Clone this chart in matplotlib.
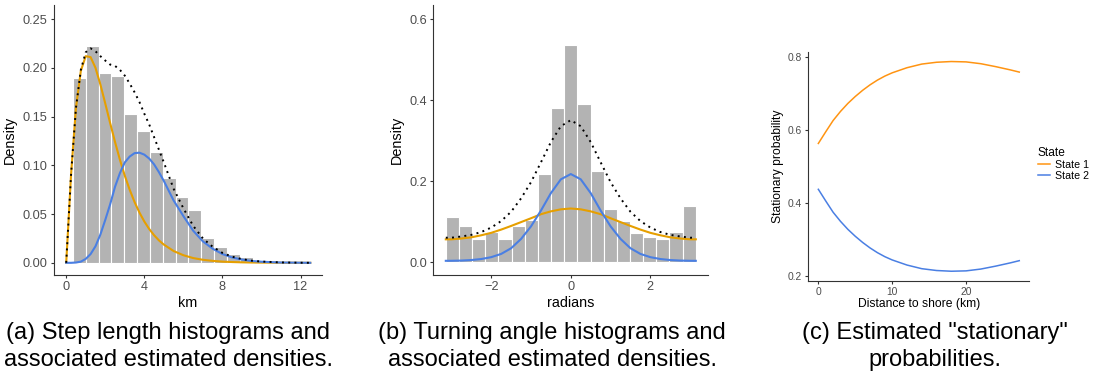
import matplotlib
matplotlib.use("Agg")
import matplotlib.pyplot as plt
import numpy as np

plt.rcParams['font.family'] = ['Liberation Sans', 'DejaVu Sans']

W, H = 1095, 385

# ---- (a) step length ----
step_bin_start = 0.34
step_bin_width = 0.658
step_hist = [0.1894, 0.2223, 0.1949, 0.1914, 0.1527, 0.1353, 0.1134,
             0.0866, 0.0675, 0.0545, 0.0253, 0.0158, 0.0089, 0.0058]
step_x = [0, 0.1, 0.25, 0.5, 0.75, 1.0, 1.25, 1.5, 1.75, 2.0, 2.25, 2.5, 2.75,
          3.0, 3.25, 3.5, 3.75, 4.0, 4.25, 4.5, 4.75, 5.0, 5.5, 6.0, 6.5, 7.0,
          7.5, 8.0, 8.5, 9.0, 9.5, 10.0, 11.0, 12.0, 12.5]
step_state1 = [0, 0.036, 0.091, 0.159, 0.197, 0.212, 0.211, 0.200, 0.183, 0.1635,
               0.1434, 0.124, 0.1058, 0.0894, 0.075, 0.0624, 0.0516, 0.0424,
               0.0347, 0.0283, 0.023, 0.0187, 0.0121, 0.0078, 0.0049, 0.0031,
               0.002, 0.0012, 0.0008, 0.0005, 0.0003, 0.0002, 0.0001, 0.0, 0.0]
step_state2 = [0, 0, 0, 0.0003, 0.0012, 0.004, 0.009, 0.017, 0.029, 0.044,
               0.060, 0.078, 0.092, 0.103, 0.109, 0.1125, 0.113, 0.111, 0.107,
               0.101, 0.093, 0.084, 0.064, 0.048, 0.033, 0.022, 0.0145, 0.009,
               0.0055, 0.0033, 0.0019, 0.0011, 0.0003, 0.0001, 0.0]
step_total = [0, 0.036, 0.091, 0.159, 0.198, 0.216, 0.220, 0.217, 0.212, 0.2075,
              0.2034, 0.202, 0.198, 0.192, 0.184, 0.175, 0.165, 0.153, 0.142,
              0.129, 0.116, 0.103, 0.076, 0.056, 0.038, 0.025, 0.0165, 0.0102,
              0.0063, 0.0038, 0.0022, 0.0013, 0.0004, 0.0001, 0.0]

# ---- (b) turning angle ----
angle_nbins = 19
angle_hist = [0.111, 0.090, 0.058, 0.076, 0.058, 0.091, 0.104, 0.219, 0.381,
              0.537, 0.392, 0.226, 0.133, 0.102, 0.073, 0.063, 0.059, 0.076, 0.139]
angle_x = [-np.pi, -3.0, -2.75, -2.5, -2.25, -2.0, -1.75, -1.5, -1.25, -1.0,
           -0.75, -0.5, -0.25, 0.0, 0.25, 0.5, 0.75, 1.0, 1.25, 1.5, 1.75, 2.0,
           2.25, 2.5, 2.75, 3.0, np.pi]
angle_state1 = [0.057, 0.057, 0.059, 0.062, 0.067, 0.073, 0.081, 0.090, 0.0995,
                0.109, 0.119, 0.126, 0.131, 0.133, 0.131, 0.126, 0.119, 0.109,
                0.0995, 0.090, 0.081, 0.073, 0.067, 0.062, 0.059, 0.057, 0.057]
angle_state2 = [0.004, 0.0041, 0.0046, 0.0059, 0.0084, 0.013, 0.021, 0.035,
                0.058, 0.089, 0.128, 0.171, 0.205, 0.218, 0.205, 0.171, 0.128,
                0.089, 0.058, 0.035, 0.021, 0.013, 0.0084, 0.0059, 0.0046,
                0.0041, 0.004]
angle_total = [0.061, 0.061, 0.064, 0.068, 0.075, 0.086, 0.102, 0.125, 0.158,
               0.198, 0.247, 0.297, 0.336, 0.351, 0.336, 0.297, 0.247, 0.198,
               0.158, 0.125, 0.102, 0.086, 0.075, 0.068, 0.064, 0.061, 0.061]

# ---- (c) stationary probabilities ----
shore_x = [0, 1, 2, 3, 4, 5, 6, 7, 8, 9, 10, 12, 14, 16, 18, 20, 22, 24, 26, 27.2]
stat_state1 = [0.563, 0.595, 0.626, 0.651, 0.673, 0.692, 0.709, 0.724, 0.737,
               0.748, 0.757, 0.771, 0.781, 0.786, 0.788, 0.787, 0.782, 0.774,
               0.765, 0.759]
stat_state2 = [0.437, 0.405, 0.374, 0.349, 0.327, 0.308, 0.291, 0.276, 0.263,
               0.252, 0.243, 0.229, 0.219, 0.214, 0.212, 0.213, 0.218, 0.226,
               0.235, 0.241]

orange_ab = '#E69F00'
orange_c = '#FF9412'
blue = '#4A7FE3'
bar_grey = '#B3B3B3'


def style(ax, tick_size):
    for s in ['top', 'right']:
        ax.spines[s].set_visible(False)
    for s in ['left', 'bottom']:
        ax.spines[s].set_color('#333333')
        ax.spines[s].set_linewidth(0.8)
    ax.tick_params(length=2.5, width=0.8, color='#333333', labelcolor='#4D4D4D',
                   labelsize=tick_size, pad=2)


fig = plt.figure(figsize=(W / 100, H / 100), dpi=100)

# (a)
ax1 = fig.add_axes([54 / W, 1 - 275 / H, (322 - 54) / W, 270 / H])
left_edges = [step_bin_start + i * step_bin_width for i in range(len(step_hist))]
ax1.bar(left_edges, step_hist, width=step_bin_width, align='edge', color=bar_grey,
        edgecolor='white', linewidth=0.8)
ax1.plot(step_x, step_state1, color=orange_ab, lw=1.5)
ax1.plot(step_x, step_state2, color=blue, lw=1.5)
ax1.plot(step_x, step_total, color='black', lw=1.4, linestyle=(0, (1, 2.2)))
ax1.set_xlim(-0.625, 13.1)
ax1.set_ylim(-0.0125, 0.2645)
ax1.set_xticks([0, 4, 8, 12])
ax1.set_yticks([0, 0.05, 0.10, 0.15, 0.20, 0.25])
ax1.set_yticklabels(['0.00', '0.05', '0.10', '0.15', '0.20', '0.25'])
style(ax1, 9.2)
ax1.set_xlabel('km', fontsize=10.4, labelpad=2)
ax1.set_ylabel('Density', fontsize=10.4, labelpad=4)

# (b)
ax2 = fig.add_axes([433.3 / W, 1 - 275 / H, (708.3 - 433.3) / W, 270 / H])
bw = 2 * np.pi / angle_nbins
a_edges = [-np.pi + i * bw for i in range(angle_nbins)]
ax2.bar(a_edges, angle_hist, width=bw, align='edge', color=bar_grey,
        edgecolor='white', linewidth=0.8)
ax2.plot(angle_x, angle_state1, color=orange_ab, lw=1.5)
ax2.plot(angle_x, angle_state2, color=blue, lw=1.5)
ax2.plot(angle_x, angle_total, color='black', lw=1.4, linestyle=(0, (1, 2.2)))
ax2.set_xlim(-1.1 * np.pi, 1.1 * np.pi)
ax2.set_ylim(-0.031, 0.635)
ax2.set_xticks([-2, 0, 2])
ax2.set_yticks([0, 0.2, 0.4, 0.6])
ax2.set_yticklabels(['0.0', '0.2', '0.4', '0.6'])
style(ax2, 9.2)
ax2.set_xlabel('radians', fontsize=10.4, labelpad=2)
ax2.set_ylabel('Density', fontsize=10.4, labelpad=4)

# (c)
ax3 = fig.add_axes([808.3 / W, 1 - 280.7 / H, (1029.3 - 808.3) / W, 229 / H])
ax3.plot(shore_x, stat_state1, color=orange_c, lw=1.1, label='State 1')
ax3.plot(shore_x, stat_state2, color=blue, lw=1.1, label='State 2')
ax3.set_xlim(-1.36, 28.56)
ax3.set_ylim(0.186, 0.815)
ax3.set_xticks([0, 10, 20])
ax3.set_yticks([0.2, 0.4, 0.6, 0.8])
ax3.set_yticklabels(['0.2', '0.4', '0.6', '0.8'])
style(ax3, 7.4)
ax3.set_xlabel('Distance to shore (km)', fontsize=8.7, labelpad=1)
ax3.set_ylabel('Stationary probability', fontsize=8.7, labelpad=3)
ax3.legend(title='State', loc='upper left', bbox_to_anchor=(1038 / W, 1 - 147 / H),
           bbox_transform=fig.transFigure, frameon=False, fontsize=7.7,
           title_fontsize=8.6, handlelength=1.1, handletextpad=0.5,
           labelspacing=0.1, borderaxespad=0, borderpad=0, alignment='left')

# captions
caps = [(168, ["(a) Step length histograms and", "associated estimated densities."]),
        (552, ["(b) Turning angle histograms and", "associated estimated densities."]),
        (935, ['(c) Estimated "stationary"', "probabilities."])]
for cx, lines in caps:
    for i, line in enumerate(lines):
        fig.text(cx / W, 1 - (333 + 27 * i) / H, line, ha='center', va='center',
                 fontsize=17, color='black')

fig.savefig('out.png', dpi=100)
